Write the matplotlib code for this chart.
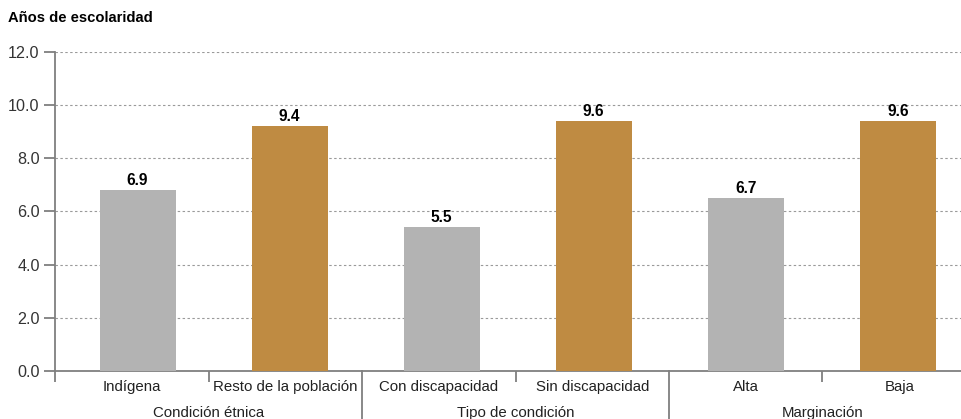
import matplotlib
matplotlib.use("Agg")
import matplotlib.pyplot as plt
import numpy as np
from matplotlib.transforms import blended_transform_factory
from matplotlib.lines import Line2D

plt.rcParams['font.family'] = ['Liberation Sans', 'DejaVu Sans']

categories = ["Indígena", "Resto de la población", "Con discapacidad",
              "Sin discapacidad", "Alta", "Baja"]
groups = ["Condición étnica", "Tipo de condición", "Marginación"]
bar_heights = [6.8, 9.2, 5.4, 9.4, 6.5, 9.4]
value_labels = ["6.9", "9.4", "5.5", "9.6", "6.7", "9.6"]
colors = ["#b3b3b3", "#bf8b42", "#b3b3b3", "#bf8b42", "#b3b3b3", "#bf8b42"]
yticks = [0, 2, 4, 6, 8, 10, 12]

W, H = 962, 419
fig = plt.figure(figsize=(W / 100, H / 100), dpi=100)
left, right, top, bottom = 55, 976, 52, 371
ax = fig.add_axes([left / W, 1 - bottom / H, (right - left) / W, (bottom - top) / H])

n = len(categories)
xs = 0.038 + np.arange(n) * 0.9905
ax.bar(xs, bar_heights, width=0.495, color=colors, zorder=3)
for x, h, lab in zip(xs, bar_heights, value_labels):
    ax.annotate(lab, (x, h), xytext=(0, 1.5), textcoords="offset points",
                ha="center", va="bottom", fontsize=11.2, fontweight="bold",
                color="#000000", zorder=4)

ax.set_xlim(-0.5, n - 0.5)
ax.set_ylim(0, 12)
ax.set_yticks(yticks)
ax.set_yticklabels([f"{v:.1f}" for v in yticks], fontsize=11.6, color="#333333")
for v in yticks[1:]:
    ax.axhline(v, color="#9a9a9a", lw=0.8, ls=(0, (2.2, 2.2)), zorder=1)

for s in ["top", "right"]:
    ax.spines[s].set_visible(False)
for s in ["left", "bottom"]:
    ax.spines[s].set_color("#7f7f7f")
    ax.spines[s].set_linewidth(1.3)
ax.tick_params(axis="y", length=8, width=1.3, color="#7f7f7f", pad=3)

ax.set_xticks([])
ax.set_xticks([-0.5, 0.5, 2.5, 4.5], minor=True)
ax.tick_params(axis="x", which="minor", length=8, width=1.3, color="#7f7f7f")

trans = blended_transform_factory(ax.transData, ax.transAxes)
ppx = 1 / (bottom - top)
for sep in [1.5, 3.5]:
    ax.add_line(Line2D([sep, sep], [0, -60 * ppx], transform=trans,
                       color="#7f7f7f", lw=1.3, clip_on=False))

for i, c in enumerate(categories):
    ax.text(i, -15.5 * ppx, c, transform=trans, ha="center", va="center",
            fontsize=10.8, color="#222222")
for g, name in enumerate(groups):
    ax.text(2 * g + 0.5, -42 * ppx, name, transform=trans, ha="center",
            va="center", fontsize=10.8, color="#222222")

fig.text(8 / W, 1 - 18 / H, "Años de escolaridad", ha="left", va="center",
         fontsize=10.6, fontweight="bold", color="#000000")

fig.savefig("out.png", dpi=100)
